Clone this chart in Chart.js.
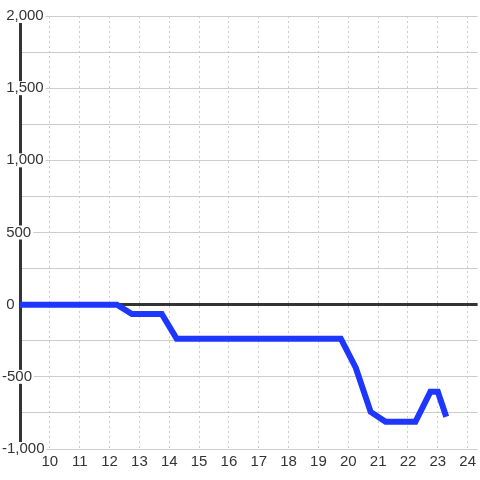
<!DOCTYPE html>
<html>
<head>
<meta charset="utf-8">
<script src="https://cdn.jsdelivr.net/npm/chart.js@4"></script>
<style>
  html, body { margin: 0; padding: 0; background: #fff; }
  #wrap { width: 480px; height: 480px; }
</style>
</head>
<body>
<div id="wrap"><canvas id="chartito"></canvas></div>
<script>
// hours of the day and the running value
var hours  = [9, 12.25, 12.75, 13.75, 14.25, 19.75, 20.25, 20.75, 21.25, 22.25, 22.75, 23, 23.25];
var values = [0, 0, -65, -65, -236, -236, -437, -743, -812, -812, -604, -604, -757];
var xTicks = [10, 11, 12, 13, 14, 15, 16, 17, 18, 19, 20, 21, 22, 23, 24];
var yLabels = [-1000, -500, 0, 500, 1000, 1500, 2000];

window.onload = function(){
    var ctx = document.getElementById("chartito");
    var puntos = hours.map(function(h, i){ return {x: h, y: values[i]}; });
    new Chart(ctx, {
        type: "line",
        data: {
            datasets: [{
                data: puntos,
                borderColor: 'rgb(30, 55, 255)',
                borderWidth: 6,
                borderCapStyle: 'square',
                pointRadius: 0,
                tension: 0,
                fill: false
            }]
        },
        options: {
            responsive: true,
            maintainAspectRatio: false,
            animation: false,
            layout: { padding: { left: 2, top: 16, right: 0, bottom: 5 } },
            plugins: { legend: { display: false }, tooltip: { enabled: false } },
            scales: {
                x: {
                    type: 'linear',
                    min: 9,
                    max: 24.333,
                    afterBuildTicks: function(axis){
                        axis.ticks = xTicks.map(function(v){ return {value: v}; });
                    },
                    grid: { color: '#cccccc', lineWidth: 1, drawTicks: false },
                    border: { display: false, dash: [2, 3] },
                    ticks: {
                        padding: 4,
                        color: '#333',
                        font: { family: 'Liberation Sans', size: 15 }
                    }
                },
                y: {
                    min: -1000,
                    max: 2000,
                    afterFit: function(scale){ scale.width = 18; },
                    ticks: {
                        stepSize: 250,
                        mirror: true,
                        padding: -18,
                        autoSkip: false,
                        color: '#333',
                        font: { family: 'Liberation Sans', size: 15 },
                        showLabelBackdrop: true,
                        backdropColor: '#ffffff',
                        backdropPadding: { top: -2, bottom: -2, left: 2, right: 2 },
                        callback: function(v){
                            if (yLabels.indexOf(v) < 0) return '';
                            return (v < 0 ? '' : ' ') + v.toLocaleString('en-US');
                        }
                    },
                    grid: {
                        drawTicks: false,
                        color: function(c){ return c.tick && c.tick.value === 0 ? '#333' : '#cccccc'; },
                        lineWidth: function(c){ return c.tick && c.tick.value === 0 ? 3 : 1; }
                    },
                    border: { color: '#333', width: 3 }
                }
            }
        }
    });
}
</script>
</body>
</html>
